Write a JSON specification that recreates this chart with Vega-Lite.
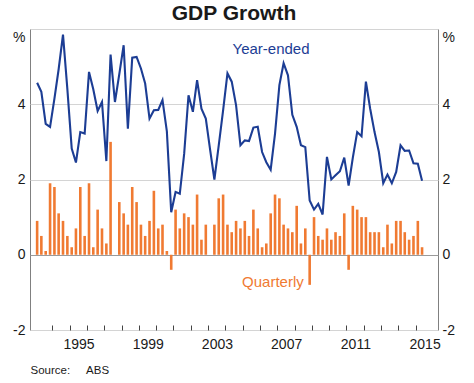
{
  "$schema": "https://vega.github.io/schema/vega-lite/v6.json",
  "width": 408,
  "height": 301,
  "autosize": {"type": "none"},
  "padding": {"left": 30, "top": 29, "right": 36, "bottom": 53},
  "background": "white",
  "title": {"text": "GDP Growth", "fontSize": 21, "font": "Liberation Sans", "fontWeight": "bold", "color": "#1a1a1a", "offset": 5, "frame": "group", "anchor": "middle"},
  "config": {
    "view": {"stroke": "#808080", "strokeWidth": 1},
    "axis": {"labelFont": "Liberation Sans", "labelFontSize": 14, "labelColor": "#1a1a1a", "domain": false, "titleFont": "Liberation Sans"}
  },
  "datasets": {
    "gdp": [
      {"date": "1993-02-15", "quarterly": 0.9, "yearEnded": 4.57},
      {"date": "1993-05-15", "quarterly": 0.5, "yearEnded": 4.33},
      {"date": "1993-08-15", "quarterly": 0.1, "yearEnded": 3.48},
      {"date": "1993-11-15", "quarterly": 1.9, "yearEnded": 3.40},
      {"date": "1994-02-15", "quarterly": 1.8, "yearEnded": 4.15},
      {"date": "1994-05-15", "quarterly": 1.1, "yearEnded": 4.93},
      {"date": "1994-08-15", "quarterly": 0.9, "yearEnded": 5.85},
      {"date": "1994-11-15", "quarterly": 0.5, "yearEnded": 4.4},
      {"date": "1995-02-15", "quarterly": 0.2, "yearEnded": 2.82},
      {"date": "1995-05-15", "quarterly": 0.7, "yearEnded": 2.45},
      {"date": "1995-08-15", "quarterly": 1.8, "yearEnded": 3.26},
      {"date": "1995-11-15", "quarterly": 0.5, "yearEnded": 3.22},
      {"date": "1996-02-15", "quarterly": 1.9, "yearEnded": 4.86},
      {"date": "1996-05-15", "quarterly": 0.2, "yearEnded": 4.4},
      {"date": "1996-08-15", "quarterly": 1.2, "yearEnded": 3.82},
      {"date": "1996-11-15", "quarterly": 0.7, "yearEnded": 4.06},
      {"date": "1997-02-15", "quarterly": 0.3, "yearEnded": 2.49},
      {"date": "1997-05-15", "quarterly": 3.0, "yearEnded": 5.32},
      {"date": "1997-08-15", "quarterly": 0.0, "yearEnded": 4.06},
      {"date": "1997-11-15", "quarterly": 1.4, "yearEnded": 4.8},
      {"date": "1998-02-15", "quarterly": 1.1, "yearEnded": 5.57},
      {"date": "1998-05-15", "quarterly": 0.8, "yearEnded": 3.35},
      {"date": "1998-08-15", "quarterly": 1.8, "yearEnded": 5.24},
      {"date": "1998-11-15", "quarterly": 1.4, "yearEnded": 5.26},
      {"date": "1999-02-15", "quarterly": 0.8, "yearEnded": 4.95},
      {"date": "1999-05-15", "quarterly": 0.5, "yearEnded": 4.55},
      {"date": "1999-08-15", "quarterly": 0.9, "yearEnded": 3.62},
      {"date": "1999-11-15", "quarterly": 1.7, "yearEnded": 3.84},
      {"date": "2000-02-15", "quarterly": 0.7, "yearEnded": 3.85},
      {"date": "2000-05-15", "quarterly": 0.8, "yearEnded": 4.11},
      {"date": "2000-08-15", "quarterly": 0.1, "yearEnded": 3.28},
      {"date": "2000-11-15", "quarterly": -0.4, "yearEnded": 1.13},
      {"date": "2001-02-15", "quarterly": 1.2, "yearEnded": 1.67},
      {"date": "2001-05-15", "quarterly": 0.7, "yearEnded": 1.62},
      {"date": "2001-08-15", "quarterly": 1.1, "yearEnded": 2.68},
      {"date": "2001-11-15", "quarterly": 1.0, "yearEnded": 4.24},
      {"date": "2002-02-15", "quarterly": 0.8, "yearEnded": 3.8},
      {"date": "2002-05-15", "quarterly": 1.6, "yearEnded": 4.64},
      {"date": "2002-08-15", "quarterly": 0.4, "yearEnded": 3.88},
      {"date": "2002-11-15", "quarterly": 0.8, "yearEnded": 3.62},
      {"date": "2003-02-15", "quarterly": 0.0, "yearEnded": 2.78},
      {"date": "2003-05-15", "quarterly": 0.8, "yearEnded": 2.0},
      {"date": "2003-08-15", "quarterly": 1.5, "yearEnded": 2.91},
      {"date": "2003-11-15", "quarterly": 1.6, "yearEnded": 3.84},
      {"date": "2004-02-15", "quarterly": 0.8, "yearEnded": 4.82},
      {"date": "2004-05-15", "quarterly": 0.6, "yearEnded": 4.6},
      {"date": "2004-08-15", "quarterly": 0.9, "yearEnded": 3.97},
      {"date": "2004-11-15", "quarterly": 0.7, "yearEnded": 2.91},
      {"date": "2005-02-15", "quarterly": 0.9, "yearEnded": 3.04},
      {"date": "2005-05-15", "quarterly": 0.5, "yearEnded": 3.02},
      {"date": "2005-08-15", "quarterly": 1.2, "yearEnded": 3.38},
      {"date": "2005-11-15", "quarterly": 0.7, "yearEnded": 3.4},
      {"date": "2006-02-15", "quarterly": 0.2, "yearEnded": 2.73},
      {"date": "2006-05-15", "quarterly": 0.3, "yearEnded": 2.46},
      {"date": "2006-08-15", "quarterly": 1.1, "yearEnded": 2.26},
      {"date": "2006-11-15", "quarterly": 1.6, "yearEnded": 3.22},
      {"date": "2007-02-15", "quarterly": 1.5, "yearEnded": 4.51},
      {"date": "2007-05-15", "quarterly": 0.8, "yearEnded": 5.09},
      {"date": "2007-08-15", "quarterly": 0.7, "yearEnded": 4.77},
      {"date": "2007-11-15", "quarterly": 0.6, "yearEnded": 3.72},
      {"date": "2008-02-15", "quarterly": 1.3, "yearEnded": 3.4},
      {"date": "2008-05-15", "quarterly": 0.3, "yearEnded": 2.91},
      {"date": "2008-08-15", "quarterly": 0.7, "yearEnded": 2.86},
      {"date": "2008-11-15", "quarterly": -0.8, "yearEnded": 1.44},
      {"date": "2009-02-15", "quarterly": 1.0, "yearEnded": 1.2},
      {"date": "2009-05-15", "quarterly": 0.5, "yearEnded": 1.35},
      {"date": "2009-08-15", "quarterly": 0.4, "yearEnded": 1.07},
      {"date": "2009-11-15", "quarterly": 0.7, "yearEnded": 2.6},
      {"date": "2010-02-15", "quarterly": 0.4, "yearEnded": 2.0},
      {"date": "2010-05-15", "quarterly": 0.6, "yearEnded": 2.11},
      {"date": "2010-08-15", "quarterly": 0.5, "yearEnded": 2.22},
      {"date": "2010-11-15", "quarterly": 1.1, "yearEnded": 2.58},
      {"date": "2011-02-15", "quarterly": -0.4, "yearEnded": 1.84},
      {"date": "2011-05-15", "quarterly": 1.3, "yearEnded": 2.58},
      {"date": "2011-08-15", "quarterly": 1.2, "yearEnded": 3.26},
      {"date": "2011-11-15", "quarterly": 1.0, "yearEnded": 3.15},
      {"date": "2012-02-15", "quarterly": 1.0, "yearEnded": 4.6},
      {"date": "2012-05-15", "quarterly": 0.6, "yearEnded": 3.88},
      {"date": "2012-08-15", "quarterly": 0.6, "yearEnded": 3.26},
      {"date": "2012-11-15", "quarterly": 0.6, "yearEnded": 2.73},
      {"date": "2013-02-15", "quarterly": 0.2, "yearEnded": 1.9},
      {"date": "2013-05-15", "quarterly": 0.8, "yearEnded": 2.13},
      {"date": "2013-08-15", "quarterly": 0.3, "yearEnded": 1.9},
      {"date": "2013-11-15", "quarterly": 0.9, "yearEnded": 2.2},
      {"date": "2014-02-15", "quarterly": 0.9, "yearEnded": 2.91},
      {"date": "2014-05-15", "quarterly": 0.6, "yearEnded": 2.76},
      {"date": "2014-08-15", "quarterly": 0.4, "yearEnded": 2.77},
      {"date": "2014-11-15", "quarterly": 0.5, "yearEnded": 2.43},
      {"date": "2015-02-15", "quarterly": 0.9, "yearEnded": 2.42},
      {"date": "2015-05-15", "quarterly": 0.2, "yearEnded": 1.97}
    ],
    "labels": [
      {"series": "Year-ended", "date": "2006-08-22", "value": 5.48},
      {"series": "Quarterly", "date": "2006-10-01", "value": -0.73}
    ]
  },
  "encoding": {
    "x": {
      "field": "date", "type": "temporal",
      "scale": {"domain": [{"year": 1993, "month": 1, "date": 1}, {"year": 2016, "month": 1, "date": 1}]},
      "axis": {
        "values": [{"year": 1994}, {"year": 1995}, {"year": 1996}, {"year": 1997}, {"year": 1998}, {"year": 1999}, {"year": 2000}, {"year": 2001}, {"year": 2002}, {"year": 2003}, {"year": 2004}, {"year": 2005}, {"year": 2006}, {"year": 2007}, {"year": 2008}, {"year": 2009}, {"year": 2010}, {"year": 2011}, {"year": 2012}, {"year": 2013}, {"year": 2014}, {"year": 2015}],
        "labelExpr": "(year(datum.value) - 1995) % 4 == 0 ? '' + year(datum.value) : ''",
        "labelOffset": 8.9,
        "labelOverlap": false,
        "labelFlush": false,
        "labelPadding": 7,
        "offset": -5,
        "tickSize": 5,
        "tickColor": "#444444",
        "grid": false,
        "title": "Source:\u00a0\u00a0\u00a0\u00a0\u00a0ABS",
        "titleFontSize": 11.5,
        "titleFontWeight": "normal",
        "titleColor": "#1a1a1a",
        "titleAnchor": "start",
        "titleAlign": "left",
        "titlePadding": 13
      }
    }
  },
  "layer": [
    {
      "data": {"name": "gdp"},
      "mark": {"type": "bar", "color": "#f07a32", "size": 2.6},
      "encoding": {
        "y": {
          "field": "quarterly", "type": "quantitative",
          "scale": {"domain": [-2, 6], "nice": false, "zero": false},
          "axis": {
            "orient": "left",
            "values": [-2, 0, 2, 4, 6],
            "grid": true,
            "gridColor": {"condition": {"test": "datum.value == 0", "value": "#9a9a9a"}, "value": "#d4d4d4"},
            "ticks": false,
            "labelPadding": 5,
            "labelExpr": "datum.value == 6 ? '%' : '' + datum.value",
            "labelBaseline": {"condition": {"test": "datum.value == 6", "value": "top"}, "value": "middle"},
            "labelOffset": {"condition": {"test": "datum.value == 6", "value": 1}, "value": 0},
            "title": null
          }
        }
      }
    },
    {
      "data": {"name": "gdp"},
      "mark": {"type": "line", "color": "#1c3d94", "strokeWidth": 2.1},
      "encoding": {
        "y": {
          "field": "yearEnded", "type": "quantitative",
          "axis": {
            "orient": "right",
            "values": [-2, 0, 2, 4, 6],
            "grid": false,
            "ticks": false,
            "labelPadding": 4,
            "labelExpr": "datum.value == 6 ? '%' : '' + datum.value",
            "labelBaseline": {"condition": {"test": "datum.value == 6", "value": "top"}, "value": "middle"},
            "labelOffset": {"condition": {"test": "datum.value == 6", "value": 1}, "value": 0},
            "title": null
          }
        }
      }
    },
    {
      "data": {"name": "labels"},
      "mark": {"type": "text", "fontSize": 15, "font": "Liberation Sans", "align": "center", "baseline": "middle"},
      "encoding": {
        "y": {"field": "value", "type": "quantitative", "axis": null},
        "text": {"field": "series"},
        "color": {"field": "series", "type": "nominal", "scale": {"domain": ["Year-ended", "Quarterly"], "range": ["#1c3d94", "#f07a32"]}, "legend": null}
      }
    }
  ],
  "resolve": {"axis": {"y": "independent"}}
}
